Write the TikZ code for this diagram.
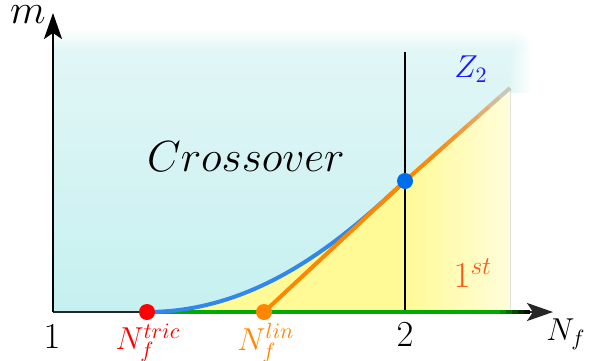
\documentclass[tikz,border=0pt]{standalone}
\usetikzlibrary{arrows.meta,calc}
\definecolor{cyanbg}{RGB}{198,240,240}
\definecolor{cyantop}{RGB}{226,246,246}
\definecolor{yel}{RGB}{255,250,150}
\definecolor{zblue}{RGB}{50,135,235}
\definecolor{dotblue}{RGB}{0,110,235}
\definecolor{orng}{RGB}{255,135,0}
\definecolor{grn}{RGB}{0,170,0}
\definecolor{lblue}{RGB}{25,25,255}
\definecolor{firstc}{RGB}{255,90,20}
\definecolor{paleblue}{RGB}{190,215,235}
\begin{document}
\begin{tikzpicture}[x=0.5pt, y=-0.5pt, font=\Large,
	dot/.style={circle, inner sep=0pt, minimum size=8pt},
	axis/.style={line width=1.3pt, -{Stealth[length=13pt,width=9pt,inset=3pt]}},
	lab/.style={font=\Large, scale=1.1},
	big/.style={font=\LARGE, scale=1.06}]
		\useasboundingbox (0,0) rectangle (599,360);
		\coordinate (O) at (53,312);
		\coordinate (xend) at (553,312);
		\coordinate (yend) at (53,13);
		\coordinate (ptric) at (147,312);
		\coordinate (plin) at (264,312);
		\coordinate (pz) at (405,181);
		\coordinate (ptop) at (510,88);
		\fill[inner color=cyantop, outer color=white] (488,28) rectangle (534,72);
		\fill[top color=cyantop, bottom color=cyanbg] (53,50) rectangle (510,312);
		\fill[top color=white, bottom color=cyantop] (53,28) rectangle (510,50);
		\fill[left color=cyantop, right color=white] (510,50) rectangle (532,92);
		\fill[yel] (ptric) .. controls (260,312) and (345,237) .. (pz) -- (405,312) -- cycle;
		\fill[left color=yel, right color=yel!35] (pz) -- (ptop) -- (510,312) -- (405,312) -- cycle;
		\draw[line width=0.6pt] (405,52) -- (405,312);
		\draw[line width=1.1pt] (405,302) -- (405,312);
		\draw[axis, black!85] (O) -- (xend);
		\draw[axis] (O) -- (yend);
		\draw[grn, line width=1.6pt] (ptric) -- (500,312);
		\foreach \i/\c in {0/85,1/65,2/45,3/25,4/10} \draw[grn!\c!black, line width=1.6pt] ({500+6*\i},312) -- ({506+6*\i},312);
		\draw[zblue, line width=2pt] (ptric) .. controls (260,312) and (345,237) .. (pz);
		\draw[orng, line width=2pt] (plin) -- (pz);
		\foreach \i [evaluate=\i as \p using int(100-\i*\i)] in {0,...,9}
			\draw[orng!\p!paleblue, line width=2pt] ($(pz)!\i/10!(ptop)$) -- ($(pz)!\i/10+0.1!(ptop)$);
		\node[dot, fill=red] (tric) at (ptric) {};
		\node[dot, fill=orng] (lin) at (plin) {};
		\node[dot, fill=dotblue] (zdot) at (pz) {};
		\node[font=\LARGE, scale=1.2, inner sep=0pt] (mlab) at (28,15) {$m$};
		\node[lab] (nflab) at (566,334) {$N_f$};
		\node[big] (one) at (52,337) {$1$};
		\node[big] (two) at (405,335) {$2$};
		\node[lab, red, inner sep=0pt] (tlab) at (148,343) {$N_f^{tric}$};
		\node[lab, orng, inner sep=0pt] (llab) at (266,343) {$N_f^{lin}$};
		\node[font=\huge, scale=1.05] (cross) at (246,157) {$Crossover$};
		\node[lab, lblue] (zlab) at (471,69) {$Z_2$};
		\node[big, firstc] (first) at (473,273) {$1^{st}$};
	\end{tikzpicture}
\end{document}
